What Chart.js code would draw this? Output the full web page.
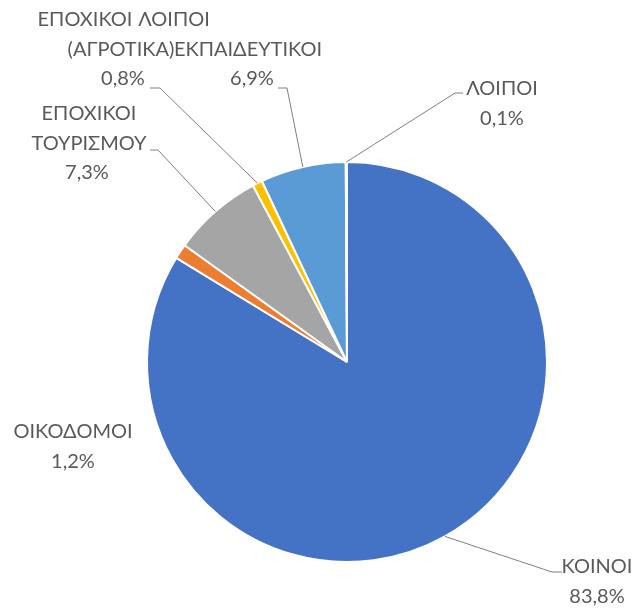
<!DOCTYPE html>
<html>
<head>
<meta charset="utf-8">
<script src="https://cdn.jsdelivr.net/npm/chart.js@4/dist/chart.umd.min.js"></script>
<style>
  html, body { margin: 0; padding: 0; background: #fff; }
</style>
</head>
<body>
<canvas id="pie" width="636" height="608"></canvas>
<script>
// slices, clockwise from 12 o'clock
const categories = ["ΚΟΙΝΟΙ", "ΟΙΚΟΔΟΜΟΙ", "ΕΠΟΧΙΚΟΙ ΤΟΥΡΙΣΜΟΥ", "ΕΠΟΧΙΚΟΙ (ΑΓΡΟΤΙΚΑ)", "ΛΟΙΠΟΙ ΕΚΠΑΙΔΕΥΤΙΚΟΙ", "ΛΟΙΠΟΙ"];
const shares = [83.8, 1.2, 7.3, 0.8, 6.9, 0.1];
const labelLines = [["ΚΟΙΝΟΙ"], ["ΟΙΚΟΔΟΜΟΙ"], ["ΕΠΟΧΙΚΟΙ", "ΤΟΥΡΙΣΜΟΥ"], ["ΕΠΟΧΙΚΟΙ", "(ΑΓΡΟΤΙΚΑ)"], ["ΛΟΙΠΟΙ", "ΕΚΠΑΙΔΕΥΤΙΚΟΙ"], ["ΛΟΙΠΟΙ"]];
const sliceColors = ["#4472C4", "#ED7D31", "#A5A5A5", "#FFC000", "#5B9BD5", "#70AD47"];

// where each data label sits (text centre per line, first line y) and its leader elbow
const labelPlacement = [
  { xs: [597, 597], y: 567, elbow: [552, 572], end: [562, 572] },
  { xs: [73, 73], y: 432, elbow: null },
  { xs: [89, 89, 87], y: 114, elbow: [158, 150], end: [150, 150] },
  { xs: [85, 121, 123], y: 20, elbow: [160, 88], end: [150, 88] },
  { xs: [174, 248, 252], y: 20, elbow: [287, 88], end: [278, 88] },
  { xs: [502, 502], y: 89, elbow: [455, 93], end: [463, 93] }
];
const lineGap = 29.5;

function pctText(v) {
  return v.toFixed(1).replace(".", ",") + "%";
}

const labelPlugin = {
  id: "pieLabels",
  afterDraw(chart) {
    const ctx = chart.ctx;
    const meta = chart.getDatasetMeta(0);
    ctx.save();
    meta.data.forEach(function (arc, i) {
      const p = arc.getProps(["x", "y", "startAngle", "endAngle", "outerRadius"], true);
      const mid = (p.startAngle + p.endAngle) / 2;
      const ex = p.x + Math.cos(mid) * p.outerRadius;
      const ey = p.y + Math.sin(mid) * p.outerRadius;
      const place = labelPlacement[i];
      if (place.elbow) {
        ctx.strokeStyle = "#7F7F7F";
        ctx.lineWidth = 1;
        ctx.beginPath();
        ctx.moveTo(ex, ey);
        ctx.lineTo(place.elbow[0], place.elbow[1]);
        ctx.lineTo(place.end[0], place.end[1]);
        ctx.stroke();
      }
      const lines = labelLines[i].concat([pctText(shares[i])]);
      ctx.fillStyle = "#595959";
      ctx.font = "20px Lato";
      ctx.textAlign = "center";
      ctx.textBaseline = "middle";
      lines.forEach(function (t, k) {
        ctx.fillText(t, place.xs[k], place.y + k * lineGap);
      });
    });
    ctx.restore();
  }
};

new Chart(document.getElementById("pie"), {
  type: "pie",
  data: {
    labels: categories,
    datasets: [{
      data: shares,
      backgroundColor: sliceColors,
      borderColor: "#FFFFFF",
      borderWidth: 2
    }]
  },
  options: {
    responsive: false,
    animation: false,
    layout: { padding: { left: 146, right: 88, top: 161, bottom: 45 } },
    plugins: {
      legend: { display: false },
      tooltip: { enabled: false }
    }
  },
  plugins: [labelPlugin]
});
</script>
</body>
</html>
